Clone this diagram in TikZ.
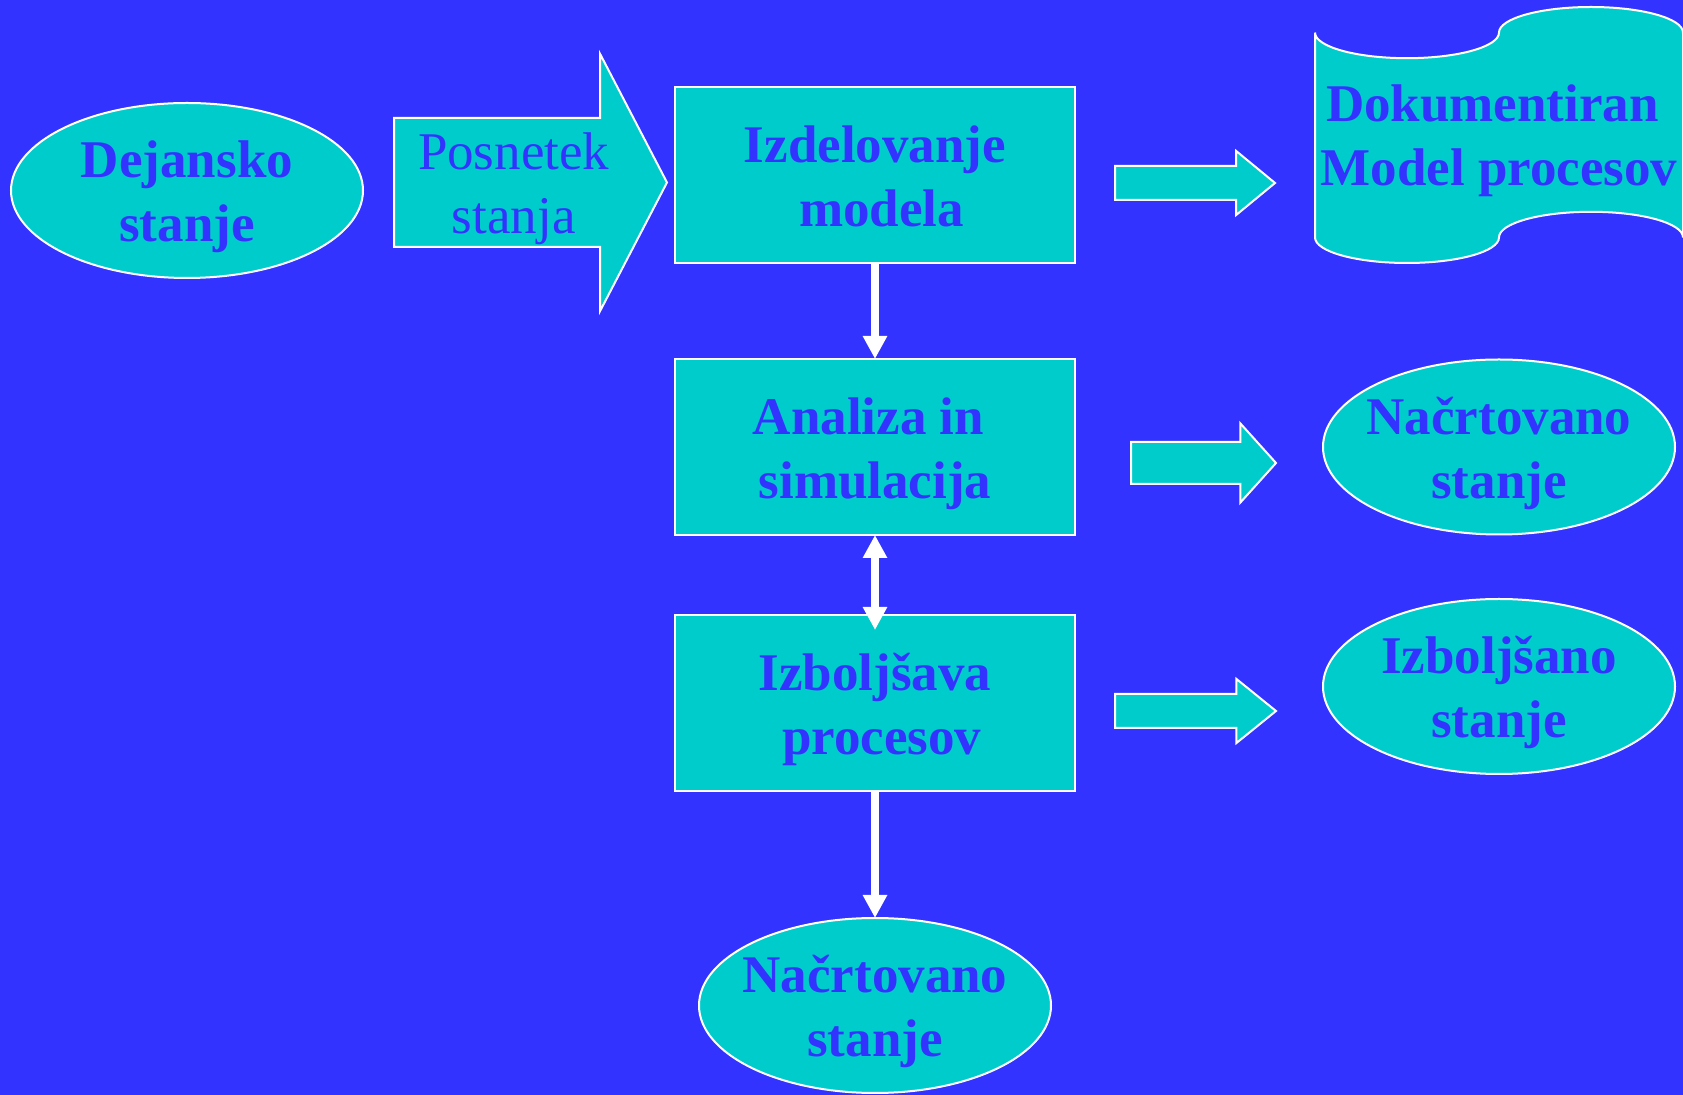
\documentclass[tikz,border=0pt]{standalone}
\usepackage{fontspec}
\setmainfont{Liberation Serif}
\usetikzlibrary{shapes.geometric, shapes.arrows, arrows.meta, positioning, calc}

\definecolor{bgblue}{HTML}{3333FF}
\definecolor{boxcyan}{HTML}{00CCCC}
\definecolor{txtblue}{HTML}{3333FF}

\begin{document}
\begin{tikzpicture}[
    x=0.5pt, y=0.5pt,
    % Define styles
    fixlines/.style={execute at begin node={\rule{0pt}{57.5pt}}, execute at end node={\rule[-6pt]{0pt}{6pt}}},
    base/.style={fixlines, draw=white, line width=1pt, outer sep=0pt, fill=boxcyan, text=txtblue, align=center, font=\fontsize{26.5}{32}\selectfont\bfseries},
    procbox/.style={base, rectangle, minimum width=200pt, minimum height=88pt, inner sep=0pt},
    stateoval/.style={base, ellipse, minimum width=176pt, minimum height=87.5pt, inner xsep=-5pt, inner ysep=-1pt},
    fatarrow/.style={single arrow, draw=white, line width=1pt, outer sep=0pt, fill=boxcyan, anchor=tail, inner sep=0pt, single arrow head indent=0pt},
    smallarrow/.style={fatarrow, inner ysep=8pt, minimum height=80pt, minimum width=31pt, single arrow head extend=7.5pt, single arrow tip angle=79},
    link/.style={draw=white, line width=4pt, -{Triangle[width=11.5pt, length=11.5pt]}},
    ]

    % Background
    \useasboundingbox (0,0) rectangle (1683,-1095);
    \fill[bgblue] (0,0) rectangle (1683,-1095);

    % Main nodes
    \node[stateoval] (dejansko) at (187,-190.5) {Dejansko\\stanje};
    \node[fatarrow, fixlines, minimum height=136.5pt, minimum width=128pt, single arrow head extend=32pt, single arrow tip angle=125, text=txtblue, align=center, font=\fontsize{26.5}{32}\selectfont] (posnetek) at ($(dejansko.east)+(31,8)$) {Posnetek\\stanja};

    \node[procbox] (izdelava) at (875,-175) {Izdelovanje\\\hspace*{0.25em}modela};
    \node[procbox, below=48pt of izdelava] (analiza) {Analiza in\hspace*{0.25em}\\simulacija};
    \node[procbox, below=40pt of analiza] (izboljsava) {Izboljšava\\\hspace*{0.25em}procesov};

    % Outputs
    \node[stateoval, below=63.5pt of izboljsava] (nacrt2) {Načrtovano\\stanje};
    \node[stateoval, right=124pt of analiza] (nacrt1) {Načrtovano\\stanje};
    \node[stateoval, right=124pt of izboljsava, yshift=8.25pt] (izboljsano) {Izboljšano\\stanje};

    % Document (punched tape)
    \filldraw[fill=boxcyan, draw=white, line width=1pt] (1315,-32.6)
        arc[start angle=180, end angle=360, x radius=46pt, y radius=12.8pt]
        arc[start angle=180, end angle=0, x radius=46pt, y radius=12.8pt]
        -- (1683,-237.4)
        arc[start angle=0, end angle=180, x radius=46pt, y radius=12.8pt]
        arc[start angle=0, end angle=-180, x radius=46pt, y radius=12.8pt]
        -- cycle;
    \node[base, draw=none, fill=none, inner sep=0pt] (dokument) at (1499,-134.5) {Dokumentiran\hspace*{0.25em}\\Model procesov};

    % Block arrows to the outputs
    \node[smallarrow] (toDok) at ($(izdelava.east)+(40,-8)$) {};
    \node[smallarrow, inner ysep=10pt, minimum height=72.5pt, minimum width=38.5pt, single arrow head extend=9.25pt, single arrow tip angle=96] (toNacrt) at ($(analiza.east)+(56,-16)$) {};
    \node[smallarrow, minimum height=80.5pt, single arrow tip angle=78] (toIzb) at ($(izboljsava.east)+(40,-8)$) {};

    % Arrows
    \draw[link] (izdelava) -- (analiza);
    \draw[link, {Triangle[width=11.5pt, length=11.5pt]}-{Triangle[width=11.5pt, length=11.5pt]}, shorten >=-7.5pt] (analiza) -- (izboljsava);
    \draw[link] (izboljsava) -- (nacrt2);

\end{tikzpicture}
\end{document}
